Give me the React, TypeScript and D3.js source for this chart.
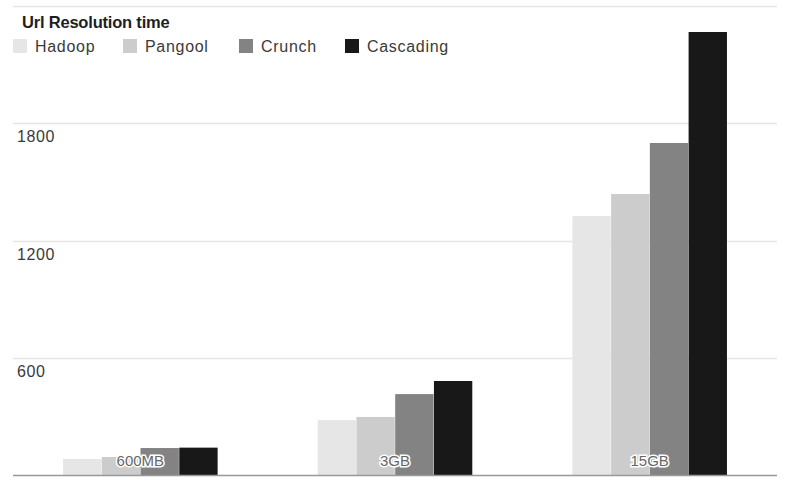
import React, { useEffect, useRef } from "react";
import * as d3 from "d3";

const categories = ["600MB", "3GB", "15GB"];
const seriesNames = ["Hadoop", "Pangool", "Crunch", "Cascading"];
const seriesColors = ["#e6e6e6", "#cccccc", "#838383", "#181818"];
const hadoop = [82, 281, 1325];
const pangool = [92, 297, 1438];
const crunch = [138, 414, 1699];
const cascading = [140, 481, 2267];
const yTicks = [600, 1200, 1800];

const App = () => {
  const ref = useRef<SVGSVGElement>(null);

  useEffect(() => {
    const width = 785,
      height = 484;
    const left = 13,
      right = 777,
      top = 6,
      bottom = 475;

    const svg = d3.select(ref.current);
    svg.selectAll("*").remove();
    svg.attr("width", width).attr("height", height);

    const x = d3.scaleBand().domain(categories).range([left, right]).paddingInner(0.39).paddingOuter(0.195);
    const xs = d3.scaleBand().domain(seriesNames).range([0, x.bandwidth()]).padding(0.01);
    const y = d3.scaleLinear().domain([0, 2400]).range([bottom, top]);

    const values = [hadoop, pangool, crunch, cascading];
    const font = "Arial, 'Liberation Sans', sans-serif";

    // gridlines
    svg
      .selectAll(".grid")
      .data([600, 1200, 1800, 2400])
      .enter()
      .append("line")
      .attr("x1", left)
      .attr("x2", right)
      .attr("y1", (d) => Math.round(y(d)) + 0.5)
      .attr("y2", (d) => Math.round(y(d)) + 0.5)
      .attr("stroke", "#e4e4e4")
      .attr("stroke-width", 1.5);

    // y labels
    svg
      .selectAll(".ylab")
      .data(yTicks)
      .enter()
      .append("text")
      .attr("x", 17)
      .attr("y", (d) => y(d) + 19)
      .attr("font-family", font)
      .attr("font-size", 16)
      .attr("letter-spacing", 0.6)
      .attr("fill", "#3a3a3a")
      .text((d) => d);

    // bars
    const groups = svg
      .selectAll(".grp")
      .data(categories)
      .enter()
      .append("g")
      .attr("transform", (d) => `translate(${x(d)},0)`);

    groups
      .selectAll("rect")
      .data((d, i) => seriesNames.map((s, j) => ({ s, v: values[j][i], c: seriesColors[j] })))
      .enter()
      .append("rect")
      .attr("x", (d) => xs(d.s)!)
      .attr("width", xs.bandwidth())
      .attr("y", (d) => y(d.v))
      .attr("height", (d) => bottom - y(d.v))
      .attr("fill", (d) => d.c);

    // baseline
    svg
      .append("line")
      .attr("x1", left)
      .attr("x2", right)
      .attr("y1", bottom + 0.5)
      .attr("y2", bottom + 0.5)
      .attr("stroke", "#999")
      .attr("stroke-width", 1.5);

    // category labels inside bars
    svg
      .selectAll(".xlab")
      .data(categories)
      .enter()
      .append("text")
      .attr("x", (d) => x(d)! + x.bandwidth() / 2)
      .attr("y", bottom - 9)
      .attr("text-anchor", "middle")
      .attr("font-family", font)
      .attr("font-size", 15)
      .attr("fill", "#666")
      .attr("stroke", "#fff")
      .attr("stroke-width", 3)
      .attr("paint-order", "stroke")
      .text((d) => d);

    // title
    svg
      .append("text")
      .attr("x", 22)
      .attr("y", 28)
      .attr("font-family", font)
      .attr("font-size", 16.5)
      .attr("font-weight", "bold")
      .attr("letter-spacing", -0.2)
      .attr("fill", "#1e1e1e")
      .text("Url Resolution time");

    // legend
    const legendX = [13, 123, 239, 345];
    const legend = svg
      .selectAll(".leg")
      .data(seriesNames)
      .enter()
      .append("g")
      .attr("transform", (d, i) => `translate(${legendX[i]},39)`);
    legend
      .append("rect")
      .attr("width", 14)
      .attr("height", 14)
      .attr("fill", (d, i) => seriesColors[i]);
    legend
      .append("text")
      .attr("x", 22)
      .attr("y", 13)
      .attr("font-family", font)
      .attr("font-size", 16)
      .attr("letter-spacing", 0.7)
      .attr("fill", "#3a3a3a")
      .text((d) => d);
  }, [ref]);

  return <svg ref={ref} style={{ position: "absolute", left: 0, top: 0 }}></svg>;
};

export default App;
